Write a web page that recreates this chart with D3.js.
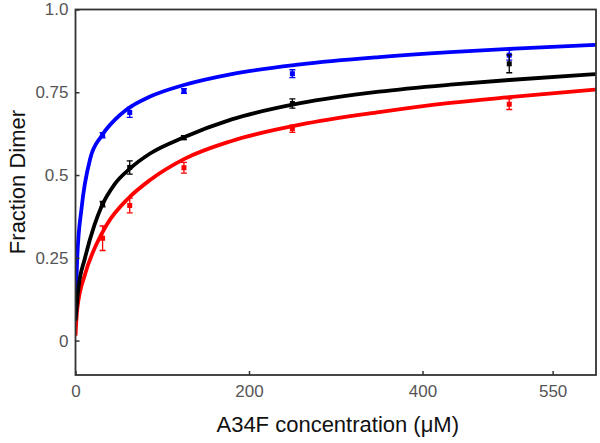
<!DOCTYPE html>
<html>
<head>
<meta charset="utf-8" />
<title>Fraction Dimer</title>
<style>
  body { margin: 0; background: #fff; }
  svg { display: block; font-family: "Liberation Sans", Arial, sans-serif; }
</style>
</head>
<body>
<script src="https://cdn.jsdelivr.net/npm/d3@7"></script>
<script>
// measured points (concentration in uM)
var conc = [31.25, 62.5, 125, 250, 500];
var blueVals = [0.62, 0.689, 0.754, 0.806, 0.862];
var blueErr = [0.008, 0.015, 0.007, 0.012, 0.015];
var blackVals = [0.412, 0.523, 0.613, 0.716, 0.836];
var blackErr = [0.008, 0.02, 0.006, 0.014, 0.027];
var redVals = [0.309, 0.408, 0.522, 0.64, 0.714];
var redErr = [0.037, 0.022, 0.016, 0.011, 0.016];

// fitted curves
var blueFitX = [0, 2, 7, 17, 30, 45, 59, 86, 125, 180, 259, 350, 432, 500, 600];
var blueFitY = [0.056, 0.25, 0.40, 0.55, 0.618, 0.666, 0.698, 0.737, 0.772, 0.805, 0.834, 0.856, 0.871, 0.881, 0.893];
var blackFitX = [0, 3, 11, 22, 30, 45, 63, 86, 125, 180, 259, 350, 432, 500, 600];
var blackFitY = [0.06, 0.15, 0.25, 0.35, 0.405, 0.472, 0.52, 0.565, 0.614, 0.668, 0.717, 0.752, 0.773, 0.787, 0.805];
var redFitX = [0, 2, 11, 24, 36, 61, 86, 125, 180, 259, 350, 432, 500, 600];
var redFitY = [0.015, 0.095, 0.20, 0.29, 0.35, 0.43, 0.485, 0.548, 0.603, 0.652, 0.69, 0.718, 0.735, 0.758];

var xTicks = [0, 200, 400, 550];
var yTicks = [0, 0.25, 0.5, 0.75, 1.0];
var yTickLabels = ["0", "0.25", "0.5", "0.75", "1.0"];

var width = 600, height = 443;
var mLeft = 75.5, mRight = 596, mTop = 9.5, mBottom = 375;

var x = d3.scaleLinear().domain([0, 600]).range([mLeft, mRight]);
var y = d3.scaleLinear().domain([-0.104, 1.0]).range([mBottom, mTop]);

var svg = d3.select("body").append("svg")
    .attr("width", width)
    .attr("height", height);

svg.append("defs").append("clipPath").attr("id", "plot")
  .append("rect")
    .attr("x", mLeft).attr("y", mTop)
    .attr("width", mRight - mLeft).attr("height", mBottom - mTop);

var series = [
    {color: "#0000ff", fx: blueFitX, fy: blueFitY, vals: blueVals, err: blueErr},
    {color: "#ff0000", fx: redFitX, fy: redFitY, vals: redVals, err: redErr},
    {color: "#000000", fx: blackFitX, fy: blackFitY, vals: blackVals, err: blackErr}
];

var line = d3.line()
    .curve(d3.curveMonotoneX)
    .x(function(d){ return x(d[0]); })
    .y(function(d){ return y(d[1]); });

var plot = svg.append("g").attr("clip-path", "url(#plot)");

series.forEach(function(s){
    var pts = s.vals.map(function(v, i){ return {x: conc[i], y: v, e: s.err[i]}; });
    var g = plot.append("g");

    // error bars
    var eb = g.selectAll("g.err").data(pts).enter().append("g")
        .attr("stroke", s.color).attr("stroke-width", 1.3);
    eb.append("line")
        .attr("x1", function(d){ return x(d.x); }).attr("x2", function(d){ return x(d.x); })
        .attr("y1", function(d){ return y(d.y - d.e); }).attr("y2", function(d){ return y(d.y + d.e); });
    eb.append("line")
        .attr("x1", function(d){ return x(d.x) - 3; }).attr("x2", function(d){ return x(d.x) + 3; })
        .attr("y1", function(d){ return y(d.y + d.e); }).attr("y2", function(d){ return y(d.y + d.e); });
    eb.append("line")
        .attr("x1", function(d){ return x(d.x) - 3; }).attr("x2", function(d){ return x(d.x) + 3; })
        .attr("y1", function(d){ return y(d.y - d.e); }).attr("y2", function(d){ return y(d.y - d.e); });

    g.selectAll("rect.dot").data(pts).enter().append("rect")
        .attr("class", "dot")
        .attr("x", function(d){ return x(d.x) - 2.5; })
        .attr("y", function(d){ return y(d.y) - 2.5; })
        .attr("width", 5).attr("height", 5)
        .attr("fill", s.color);

    g.append("path")
        .datum(s.fx.map(function(v, i){ return [v, s.fy[i]]; }))
        .attr("fill", "none")
        .attr("stroke", s.color)
        .attr("stroke-width", 3.8)
        .attr("stroke-linejoin", "round")
        .attr("d", line);
});

// axes with inward ticks
var xAxis = d3.axisTop(x).tickValues(xTicks).tickSize(4).tickFormat(d3.format("d"));
var gx = svg.append("g").attr("transform", "translate(0," + mBottom + ")").call(xAxis);
gx.selectAll(".tick text").attr("y", 22).attr("dy", 0);
gx.select(".domain").remove();

var yAxis = d3.axisRight(y).tickValues(yTicks).tickSize(4)
    .tickFormat(function(d, i){ return yTickLabels[i]; });
var gy = svg.append("g").attr("transform", "translate(" + mLeft + ",0)").call(yAxis);
gy.selectAll(".tick text").attr("x", -7).attr("text-anchor", "end");
gy.select(".domain").remove();

svg.selectAll(".tick text")
    .attr("fill", "#555")
    .attr("font-size", 17)
    .attr("font-family", "Liberation Sans, Arial, sans-serif");
svg.selectAll(".tick line").attr("stroke", "#333").attr("stroke-width", 1.5);

svg.append("rect")
    .attr("x", mLeft).attr("y", mTop)
    .attr("width", mRight - mLeft).attr("height", mBottom - mTop)
    .attr("fill", "none")
    .attr("stroke", "#333")
    .attr("stroke-width", 1.8);

svg.append("text")
    .attr("x", (mLeft + mRight) / 2 + 2)
    .attr("y", 432)
    .attr("text-anchor", "middle")
    .attr("font-size", 22)
    .attr("fill", "#111")
    .text("A34F concentration (μM)");

svg.append("text")
    .attr("transform", "translate(25," + 182 + ") rotate(-90)")
    .attr("text-anchor", "middle")
    .attr("font-size", 22)
    .attr("fill", "#111")
    .text("Fraction Dimer");
</script>
</body>
</html>
